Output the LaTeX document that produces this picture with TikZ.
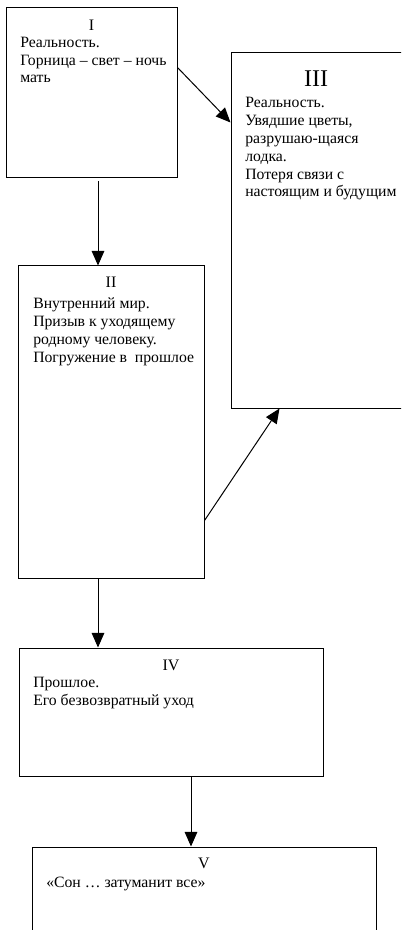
\documentclass[tikz,border=0pt]{standalone}
\usepackage{fontspec}
\setmainfont{Liberation Serif}
\usetikzlibrary{arrows.meta,calc}

\begin{document}
\begin{tikzpicture}[x=0.75pt,y=-0.75pt,
    box/.style 2 args={draw, line width=0.75pt, inner sep=0pt,
        minimum width=#1*0.75pt, minimum height=#2*0.75pt},
    numtxt/.style={anchor=base, inner sep=0pt, font=\fontsize{12}{13.4}\selectfont},
    bodytxt/.style={anchor=base west, align=left, inner sep=0pt,
        font=\fontsize{11.8}{13.4}\selectfont},
    arr/.style={-{Triangle[length=11pt,width=9.5pt]}, line width=0.75pt}]
    \useasboundingbox (0,0) rectangle (401,930);
    \clip (0,0) rectangle (401,930);
    \node[box={171}{170}] (b1) at (91.5,93) {};
    \node[box={186}{312}] (b2) at (111,422) {};
    \node[box={173}{355}] (b3) at (317.5,230.5) {};
    \node[box={304}{128}] (b4) at (171,712) {};
    \node[box={344}{140}] (b5) at (204,917) {};
    \node[numtxt] (n1) at (91.5,31) {I};
    \node[bodytxt] (t1) at (20,83) {Реальность.\\Горница – свет – ночь\\мать};
    \node[numtxt, font=\fontsize{18}{20}\selectfont] (n3) at (316,87) {III};
    \node[bodytxt] (t3) at (245,197) {Реальность.\\Увядшие цветы,\\разрушаю-щаяся\\лодка.\\Потеря связи с\\настоящим и будущим};
    \node[numtxt] (n2) at (111,287) {II};
    \node[bodytxt] (t2) at (33,362) {Внутренний мир.\\Призыв к уходящему\\родному человеку.\\Погружение в~~прошлое};
    \node[numtxt] (n4) at (171,670) {IV};
    \node[bodytxt] (t4) at (33,705) {Прошлое.\\Его безвозвратный уход};
    \node[numtxt] (n5) at (204,868) {V};
    \node[bodytxt] (t5) at (46,887) {«Сон … затуманит все»};
    \draw[arr] ($(b1.south)+(6.5,3)$) -- ($(b2.north)+(-13,0)$);
    \draw[arr] ($(b1.north east)+(0,60)$) -- ($(b3.north west)+(0,70)$);
    \draw[arr] ($(b2.south east)+(0,-58)$) -- ($(b3.south west)+(49,0)$);
    \draw[arr] ($(b2.south)+(-13,0)$) -- ($(b4.north)+(-73,0)$);
    \draw[arr] ($(b4.south)+(20,0)$) -- ($(b5.north)+(-13,0)$);
\end{tikzpicture}
\end{document}
